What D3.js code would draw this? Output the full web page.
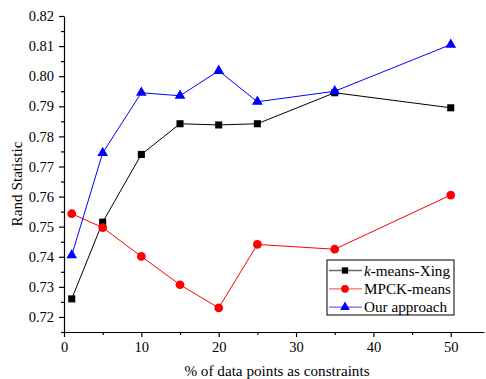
<!DOCTYPE html>
<html>
<head>
<meta charset="utf-8">
<script src="https://cdn.jsdelivr.net/npm/d3@7"></script>
<style>
  body { margin: 0; background: #fff; }
  text { font-family: "Liberation Serif", "Times New Roman", serif; }
</style>
</head>
<body>
<script>
// data
var xValues = [1, 5, 10, 15, 20, 25, 35, 50];
var xingValues = [0.7260, 0.7515, 0.7740, 0.7842, 0.7838, 0.7842, 0.7945, 0.7895];
var mpckValues = [0.7543, 0.7497, 0.7401, 0.7307, 0.7230, 0.7441, 0.7425, 0.7605];
var oursValues = [0.7405, 0.7745, 0.7945, 0.7935, 0.8018, 0.7915, 0.7950, 0.8105];
var seriesNames = ["k-means-Xing", "MPCK-means", "Our approach"];
var xTicks = [0, 10, 20, 30, 40, 50];
var yTicks = [0.72, 0.73, 0.74, 0.75, 0.76, 0.77, 0.78, 0.79, 0.80, 0.81, 0.82];

var width = 486, height = 379;
var plotLeft = 64, plotTop = 16, plotBottom = 332;

var svg = d3.select("body").append("svg")
    .attr("width", width)
    .attr("height", height);

// scales
var x = d3.scaleLinear().domain([0, 54.3]).range([plotLeft, 484]);
var y = d3.scaleLinear().domain([0.715, 0.82]).range([plotBottom, plotTop]);

// minor ticks first
var xMinor = d3.range(5, 55, 10);
var yMinor = d3.range(0.715, 0.8201, 0.01);

svg.append("g")
    .attr("transform", "translate(0," + plotBottom + ")")
    .call(d3.axisBottom(x).tickValues(xMinor).tickSize(3).tickFormat(""))
    .call(function(g) { g.select(".domain").remove(); });

svg.append("g")
    .attr("transform", "translate(" + plotLeft + ",0)")
    .call(d3.axisLeft(y).tickValues(yMinor).tickSize(3).tickFormat(""))
    .call(function(g) { g.select(".domain").remove(); });

// x axis
var xAxis = svg.append("g")
    .attr("transform", "translate(0," + plotBottom + ")")
    .call(d3.axisBottom(x).tickValues(xTicks).tickSize(5).tickSizeOuter(0).tickPadding(5));
xAxis.selectAll("text").attr("font-size", 14.5).attr("fill", "#000")
    .style("font-family", "Liberation Serif");

// y axis
var yAxis = svg.append("g")
    .attr("transform", "translate(" + plotLeft + ",0)")
    .call(d3.axisLeft(y).tickValues(yTicks).tickSize(5).tickSizeOuter(0).tickPadding(5)
        .tickFormat(d3.format(".2f")));
yAxis.selectAll("text").attr("font-size", 14.5).attr("fill", "#000")
    .style("font-family", "Liberation Serif");

svg.selectAll(".domain, .tick line").attr("stroke", "#000").attr("stroke-width", 1.2);

// axis titles
svg.append("text")
    .attr("x", 277)
    .attr("y", 376)
    .attr("text-anchor", "middle")
    .attr("font-size", 15.2)
    .text("% of data points as constraints");

svg.append("text")
    .attr("transform", "translate(22,184) rotate(-90)")
    .attr("text-anchor", "middle")
    .attr("font-size", 15.2)
    .text("Rand Statistic");

// series
var series = [
    { name: seriesNames[0], values: xingValues, color: "#000000", shape: d3.symbolSquare, size: 50 },
    { name: seriesNames[1], values: mpckValues, color: "#ff0000", shape: d3.symbolCircle, size: 60 },
    { name: seriesNames[2], values: oursValues, color: "#0000ff", shape: d3.symbolTriangle, size: 50 }
];

var line = d3.line()
    .x(function(d) { return x(d[0]); })
    .y(function(d) { return y(d[1]); });

series.forEach(function(s) {
    var pts = xValues.map(function(v, i) { return [v, s.values[i]]; });
    svg.append("path")
        .attr("d", line(pts))
        .attr("fill", "none")
        .attr("stroke", s.color)
        .attr("stroke-width", 1);
    svg.selectAll(null)
        .data(pts)
        .enter().append("path")
        .attr("d", d3.symbol().type(s.shape).size(s.size))
        .attr("transform", function(d) { return "translate(" + x(d[0]) + "," + y(d[1]) + ")"; })
        .attr("fill", s.color);
});

// legend
var legend = svg.append("g").attr("transform", "translate(327,260)");
legend.append("rect")
    .attr("width", 127)
    .attr("height", 55)
    .attr("fill", "#fff")
    .attr("stroke", "#000")
    .attr("stroke-width", 1);

series.forEach(function(s, i) {
    var row = legend.append("g").attr("transform", "translate(0," + (10.5 + i * 18.3) + ")");
    row.append("line")
        .attr("x1", 2).attr("x2", 35)
        .attr("stroke", s.color)
        .attr("stroke-opacity", 0.6)
        .attr("stroke-width", 1.3);
    row.append("path")
        .attr("d", d3.symbol().type(s.shape).size(s.size * 0.8))
        .attr("transform", "translate(18,0)")
        .attr("fill", s.color);
    var t = row.append("text")
        .attr("x", 37)
        .attr("dy", "0.35em")
        .attr("font-size", 15.2);
    if (i === 0) {
        t.append("tspan").attr("font-style", "italic").text("k");
        t.append("tspan").text("-means-Xing");
    } else {
        t.text(s.name);
    }
});
</script>
</body>
</html>
